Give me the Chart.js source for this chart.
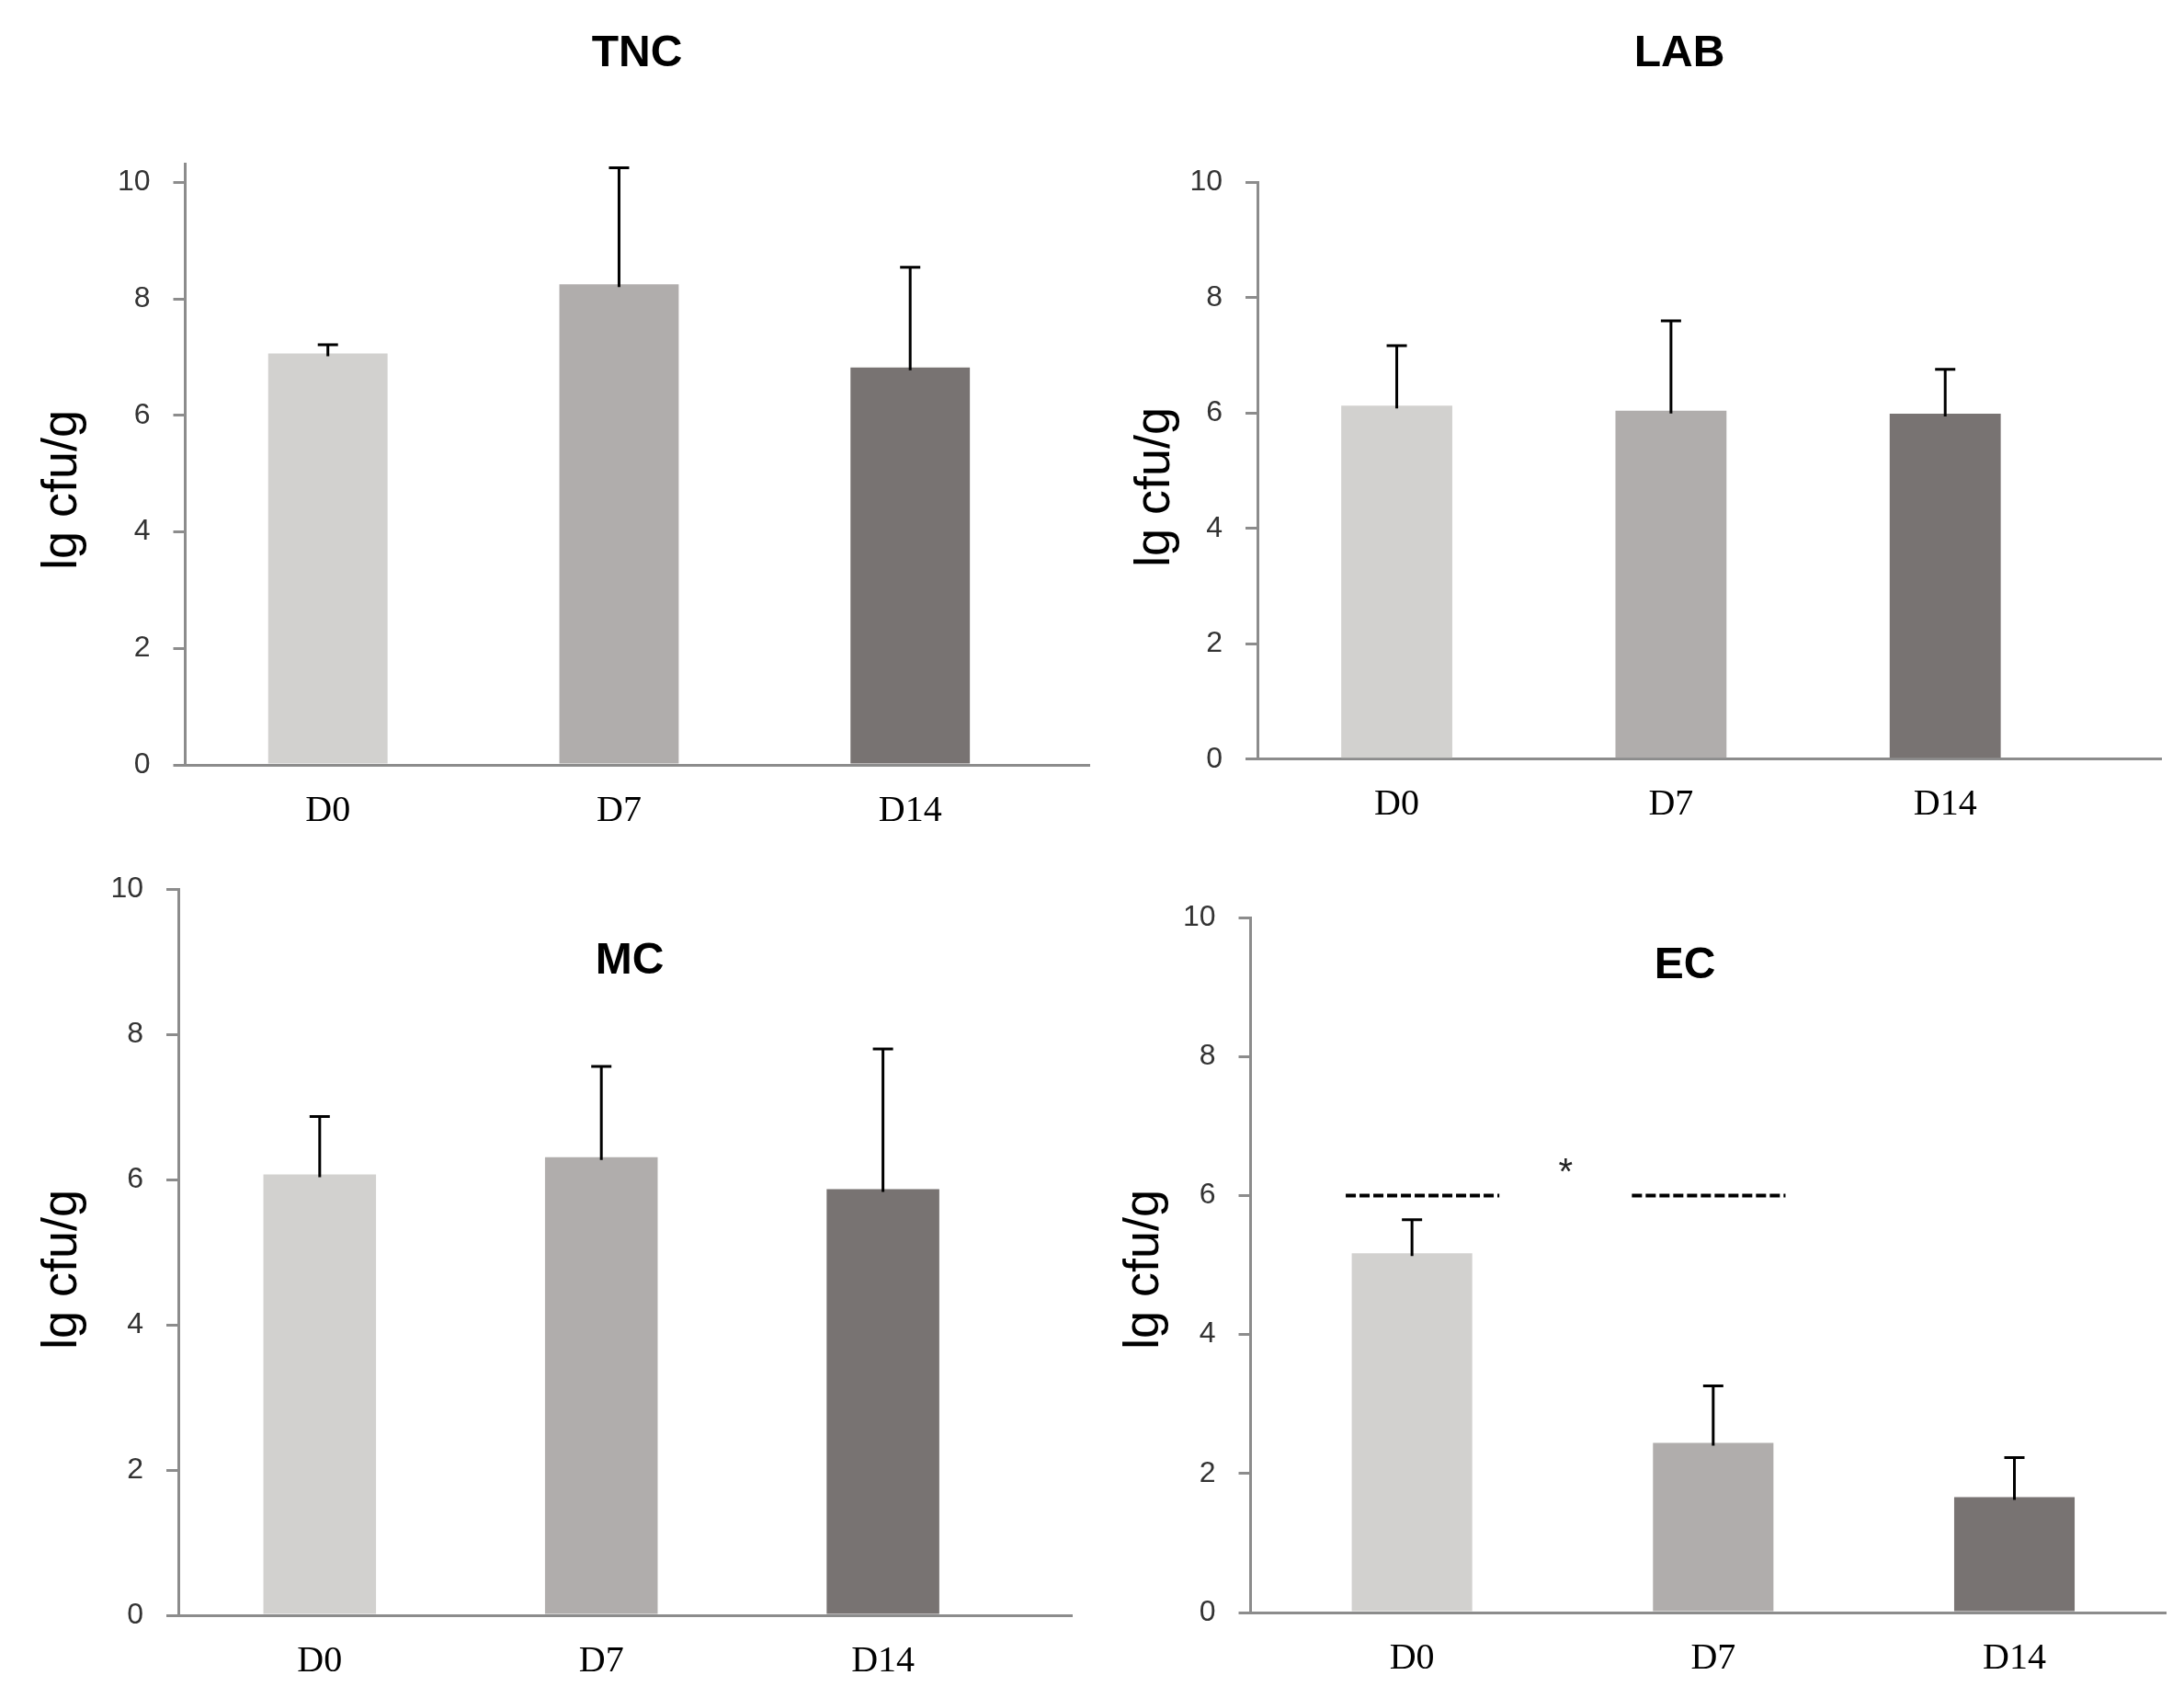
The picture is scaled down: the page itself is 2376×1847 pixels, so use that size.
<!DOCTYPE html>
<html lang="en">
<head>
<meta charset="UTF-8">
<title>lg cfu/g by day</title>
<script src="https://cdn.jsdelivr.net/npm/chart.js"></script>
<style>
    body { margin: 0; background: #fff; }
    .pagina { position: relative; width: 2376px; height: 1847px; background: #fff; }
    .pagina canvas { position: absolute; }
</style>
</head>
<body>
<div class="pagina">
    <canvas id="graficoTNC" width="1188" height="923" style="left:0;top:0"></canvas>
    <canvas id="graficoLAB" width="1188" height="923" style="left:1188px;top:0"></canvas>
    <canvas id="graficoMC" width="1188" height="924" style="left:0;top:923px"></canvas>
    <canvas id="graficoEC" width="1188" height="924" style="left:1188px;top:923px"></canvas>
</div>

<script>
    // dados
    const dias = ['D0', 'D7', 'D14'];
    const tickValores = [0, 2, 4, 6, 8, 10];

    const tncMedias = [7.06, 8.25, 6.82];
    const tncErros = [0.15, 2.0, 1.72];

    const labMedias = [6.13, 6.04, 5.99];
    const labErros = [1.04, 1.56, 0.77];

    const mcMedias = [6.07, 6.31, 5.87];
    const mcErros = [0.8, 1.25, 1.93];

    const ecMedias = [5.17, 2.44, 1.66];
    const ecErros = [0.48, 0.82, 0.57];

    // linha tracejada e asterisco do painel EC (posicao no eixo x, valor)
    const ecTracejados = [[-0.22, 0.29, 6], [0.73, 1.24, 6]];
    const ecAsterisco = [0.51, 6.43];

    const coresBarras = ['#d2d1cf', '#b0adac', '#787372'];
    const corEixo = '#8c8c8c';

    const W_EIXO_Y = 120;
    const H_EIXO_X = 80;

    // desenha barras de erro, titulo, rotulo do eixo y e extras
    const extras = {
        id: 'extras',
        afterDatasetsDraw(chart, args, opts) {
            const ctx = chart.ctx;
            const xs = chart.scales.x;
            const ys = chart.scales.y;
            const meta = chart.getDatasetMeta(0);

            ctx.save();
            ctx.strokeStyle = '#000';
            ctx.lineWidth = 3;
            opts.erros.forEach((e, i) => {
                const bar = meta.data[i];
                const topo = ys.getPixelForValue(opts.medias[i] + e);
                const base = ys.getPixelForValue(opts.medias[i]) + 3;
                ctx.beginPath();
                ctx.moveTo(bar.x, base);
                ctx.lineTo(bar.x, topo);
                ctx.moveTo(bar.x - 11, topo);
                ctx.lineTo(bar.x + 11, topo);
                ctx.stroke();
            });

            if (opts.tracejados) {
                ctx.lineWidth = 4;
                ctx.setLineDash([11, 4]);
                opts.tracejados.forEach(t => {
                    const y = ys.getPixelForValue(t[2]);
                    ctx.beginPath();
                    ctx.moveTo(xs.getPixelForValue(t[0]), y);
                    ctx.lineTo(xs.getPixelForValue(t[1]), y);
                    ctx.stroke();
                });
                ctx.setLineDash([]);
            }
            if (opts.asterisco) {
                ctx.fillStyle = '#222';
                ctx.font = '40px "Liberation Sans"';
                ctx.textAlign = 'center';
                ctx.textBaseline = 'middle';
                ctx.fillText('*', xs.getPixelForValue(opts.asterisco[0]), ys.getPixelForValue(opts.asterisco[1]) + 9);
            }

            ctx.fillStyle = '#000';
            ctx.textAlign = 'center';
            ctx.textBaseline = 'middle';
            ctx.font = 'bold 48px "Liberation Sans"';
            ctx.fillText(opts.titulo, opts.tituloX, opts.tituloY);

            ctx.translate(opts.rotuloX, opts.rotuloY);
            ctx.rotate(-Math.PI / 2);
            ctx.font = '54px "Liberation Sans"';
            ctx.fillText('lg cfu/g', 0, 0);
            ctx.restore();
        }
    };

    function criarGrafico(id, medias, erros, cfg) {
        const ctx = document.getElementById(id);
        return new Chart(ctx, {
            type: 'bar',
            data: {
                datasets: [{
                    data: medias.map((v, i) => ({ x: i, y: v })),
                    backgroundColor: coresBarras,
                    borderWidth: 0,
                    barPercentage: cfg.larguraBarra,
                    categoryPercentage: 1
                }]
            },
            options: {
                responsive: false,
                animation: false,
                layout: {
                    padding: {
                        left: cfg.area[0] - W_EIXO_Y,
                        right: ctx.width - cfg.area[1],
                        top: cfg.area[2],
                        bottom: ctx.height - cfg.area[3] - H_EIXO_X
                    }
                },
                plugins: {
                    legend: { display: false },
                    tooltip: { enabled: false },
                    extras: {
                        medias: medias,
                        erros: erros,
                        titulo: cfg.titulo,
                        tituloX: cfg.titulo_pos[0],
                        tituloY: cfg.titulo_pos[1],
                        rotuloX: cfg.rotulo_pos[0],
                        rotuloY: cfg.rotulo_pos[1],
                        tracejados: cfg.tracejados,
                        asterisco: cfg.asterisco
                    }
                },
                scales: {
                    x: {
                        type: 'linear',
                        offset: false,
                        min: cfg.xlim[0],
                        max: cfg.xlim[1],
                        grid: { display: false },
                        border: { display: true, color: corEixo, width: 3 },
                        ticks: {
                            padding: 18,
                            color: '#000',
                            autoSkip: false,
                            maxRotation: 0,
                            font: { family: '"Liberation Serif"', size: 40 },
                            callback: v => dias[v]
                        },
                        afterBuildTicks: s => {
                            s.ticks = dias.map((d, i) => ({ value: i }));
                        },
                        afterFit: s => { s.height = H_EIXO_X; }
                    },
                    y: {
                        min: 0,
                        max: cfg.max,
                        grid: {
                            drawOnChartArea: false,
                            drawTicks: true,
                            tickLength: 13,
                            color: corEixo,
                            lineWidth: 3
                        },
                        border: { display: true, color: corEixo, width: 3 },
                        ticks: {
                            padding: 25,
                            color: '#333',
                            font: { family: '"Liberation Sans"', size: 32 }
                        },
                        afterBuildTicks: s => {
                            s.ticks = tickValores.map(v => ({ value: v }));
                        },
                        afterFit: s => { s.width = W_EIXO_Y; }
                    }
                }
            },
            plugins: [extras]
        });
    }

    // area = [esquerda, direita, topo, base] em pixels do canvas
    criarGrafico('graficoTNC', tncMedias, tncErros, {
        titulo: 'TNC', titulo_pos: [693, 59], rotulo_pos: [68, 533],
        area: [201.5, 1185, 178, 832], max: 10.32,
        xlim: [-0.49, 2.615], larguraBarra: 0.41
    });

    criarGrafico('graficoLAB', labMedias, labErros, {
        titulo: 'LAB', titulo_pos: [639, 59], rotulo_pos: [69, 530],
        area: [180, 1163, 198.5, 825.7], max: 10,
        xlim: [-0.508, 2.787], larguraBarra: 0.405
    });

    criarGrafico('graficoMC', mcMedias, mcErros, {
        titulo: 'MC', titulo_pos: [685, 123], rotulo_pos: [68, 458],
        area: [194, 1166.5, 42, 834], max: 10,
        xlim: [-0.502, 2.672], larguraBarra: 0.40
    });

    criarGrafico('graficoEC', ecMedias, ecErros, {
        titulo: 'EC', titulo_pos: [645, 128], rotulo_pos: [57, 458],
        area: [172.5, 1168, 75, 831], max: 10,
        xlim: [-0.536, 2.502], larguraBarra: 0.40,
        tracejados: ecTracejados, asterisco: ecAsterisco
    });
</script>
</body>
</html>
